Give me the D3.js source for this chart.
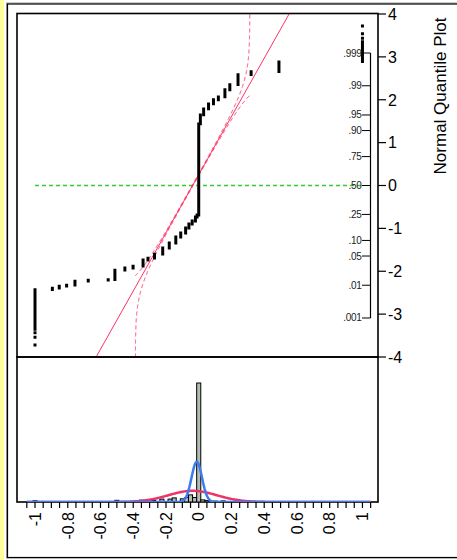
<!DOCTYPE html>
<html><head><meta charset="utf-8">
<script src="https://cdn.jsdelivr.net/npm/d3@7"></script>
<style>body{margin:0;background:#fff}svg{display:block}text{font-family:Arial,"Liberation Sans",sans-serif}</style>
</head><body><svg id="c" width="457" height="560"></svg>
<script>
// ---- data (distinct values and their counts) ----
const dataValues = [-1.0,-0.894,-0.852,-0.807,-0.756,-0.675,-0.553,-0.512,-0.451,-0.401,-0.34,-0.31,-0.27,-0.22,-0.18,-0.14,-0.11,-0.08,-0.06,-0.04,-0.02,-0.01,0,0.01,0.03,0.06,0.09,0.12,0.16,0.19,0.24,0.32,0.49,1.0];
const dataCounts = [75,8,11,6,28,8,4,102,28,30,109,42,96,174,175,248,192,268,238,193,274,144,6794,256,128,85,56,35,66,34,45,9,20,19];
const xTickValues = [-1,-0.8,-0.6,-0.4,-0.2,0,0.2,0.4,0.6,0.8,1];
const xTickLabels = ["-1","-0.8","-0.6","-0.4","-0.2","0","0.2","0.4","0.6","0.8","1"];
const zTickValues = [4,3,2,1,0,-1,-2,-3,-4];
const zTickLabels = ["4","3","2","1","0","-1","-2","-3","-4"];
const probTickValues = [0.001,0.01,0.05,0.10,0.25,0.50,0.75,0.90,0.95,0.99,0.999];
const probTickLabels = [".001",".01",".05",".10",".25",".50",".75",".90",".95",".99",".999"];
const xDomain = [-1.11, 1.095];
const zDomain = [-4, 4];
const histBinWidth = 0.025;
// second (narrow) fitted curve: location, scale, weight
const blueLocation = -0.012, blueScale = 0.032, blueWeight = 0.78;
const titleText = "Normal Quantile Plot";

// ---- helpers ----
function invNorm(p){
  const a=[-3.969683028665376e+01,2.209460984245205e+02,-2.759285104469687e+02,1.383577518672690e+02,-3.066479806614716e+01,2.506628277459239e+00];
  const b=[-5.447609879822406e+01,1.615858368580409e+02,-1.556989798598866e+02,6.680131188771972e+01,-1.328068155288572e+01];
  const c=[-7.784894002430293e-03,-3.223964580411365e-01,-2.400758277161838e+00,-2.549732539343734e+00,4.374664141464968e+00,2.938163982698783e+00];
  const d=[7.784695709041462e-03,3.224671290700398e-01,2.445134137142996e+00,3.754408661907416e+00];
  const pl=0.02425, ph=1-pl; let q,r;
  if(p<pl){q=Math.sqrt(-2*Math.log(p));return (((((c[0]*q+c[1])*q+c[2])*q+c[3])*q+c[4])*q+c[5])/((((d[0]*q+d[1])*q+d[2])*q+d[3])*q+1);}
  if(p<=ph){q=p-0.5;r=q*q;return (((((a[0]*r+a[1])*r+a[2])*r+a[3])*r+a[4])*r+a[5])*q/(((((b[0]*r+b[1])*r+b[2])*r+b[3])*r+b[4])*r+1);}
  q=Math.sqrt(-2*Math.log(1-p));return -(((((c[0]*q+c[1])*q+c[2])*q+c[3])*q+c[4])*q+c[5])/((((d[0]*q+d[1])*q+d[2])*q+d[3])*q+1);
}
function erf(x){const s=Math.sign(x);x=Math.abs(x);const t=1/(1+0.3275911*x);
  const y=1-(((((1.061405429*t-1.453152027)*t)+1.421413741)*t-0.284496736)*t+0.254829592)*t*Math.exp(-x*x);return s*y;}
const normCdf = z => 0.5*(1+erf(z/Math.SQRT2));
const normPdf = (v,m,s) => Math.exp(-0.5*((v-m)/s)**2)/(s*Math.sqrt(2*Math.PI));

// expand observations
const obs = [];
dataValues.forEach((v,i)=>{for(let k=0;k<dataCounts[i];k++) obs.push(v);});
const N = obs.length;
const mean = d3.mean(obs), sd = d3.deviation(obs);
const lillD = 0.886/Math.sqrt(N);

// ---- layout ----
const L=17, R=378, T=13.5, MID=357, B=502;
const svg = d3.select("#c");
const x = d3.scaleLinear().domain(xDomain).range([L,R]);
const y = d3.scaleLinear().domain(zDomain).range([MID,T+0.5]);

// left yellow strip and outer frame
svg.append("rect").attr("x",0).attr("y",0).attr("width",4).attr("height",560).attr("fill","#ffff99");
svg.append("rect").attr("x",6.5).attr("y",3).attr("width",470).attr("height",555).attr("fill","none").attr("stroke","#999").attr("stroke-width",1);
svg.append("rect").attr("x",7.5).attr("y",4).attr("width",470).attr("height",553.5).attr("fill","none").attr("stroke","#000").attr("stroke-width",1.2);

const defs = svg.append("defs");
defs.append("clipPath").attr("id","topclip").append("rect").attr("x",L).attr("y",T).attr("width",R-L).attr("height",MID-T);
defs.append("clipPath").attr("id","botclip").append("rect").attr("x",L).attr("y",MID).attr("width",R-L).attr("height",B-MID);

const gTop = svg.append("g").attr("clip-path","url(#topclip)");

// green median line
gTop.append("line").attr("x1",x(d3.min(obs))).attr("x2",x(d3.max(obs))).attr("y1",y(0)).attr("y2",y(0))
  .attr("stroke","#33cc33").attr("stroke-width",1.5).attr("stroke-dasharray","4,3");

// fitted normal line
gTop.append("line").attr("x1",x(mean+sd*zDomain[0])).attr("y1",y(zDomain[0])).attr("x2",x(mean+sd*zDomain[1])).attr("y2",y(zDomain[1]))
  .attr("stroke","#ff3366").attr("stroke-width",1);

// Lilliefors confidence bands (limited to the range between the band asymptotes)
const bandLo = mean+sd*invNorm(lillD), bandHi = mean+sd*invNorm(1-lillD);
const zs = d3.range(zDomain[0]-0.5, zDomain[1]+0.5, 0.004);
[-1,1].forEach(sg=>{
  const pts = zs.map(z=>{const p=normCdf(z)+sg*lillD; if(!(p>0&&p<1)) return [NaN,NaN];
    const v=mean+sd*invNorm(p); return (v>=bandLo-0.002&&v<=bandHi+0.002)?[x(v),y(z)]:[NaN,NaN];});
  gTop.append("path").attr("d", d3.line().defined(d=>!isNaN(d[0]))(pts))
    .attr("fill","none").attr("stroke","#ff3366").attr("stroke-width",1).attr("stroke-dasharray","4,3");
});

// points
let pd="";
obs.forEach((v,i)=>{const px=x(v), py=y(invNorm((i+1)/(N+1))); pd+=`M${(px-1.5).toFixed(2)},${(py-1.5).toFixed(2)}h3v3h-3z`;});
gTop.append("path").attr("d",pd).attr("fill","#000");

// inner probability axis
const px0 = 370.5;
svg.append("line").attr("x1",px0).attr("x2",px0).attr("y1",y(invNorm(0.999))).attr("y2",y(invNorm(0.001))).attr("stroke","#000").attr("stroke-width",1.2);
probTickValues.forEach((p,i)=>{
  const yy=y(invNorm(p));
  svg.append("line").attr("x1",362).attr("x2",px0).attr("y1",yy).attr("y2",yy).attr("stroke","#000").attr("stroke-width",1);
  svg.append("text").attr("x",361.5).attr("y",yy).attr("dy","0.35em").attr("text-anchor","end").attr("font-size",10).attr("fill","#222").attr("letter-spacing","-0.3").text(probTickLabels[i]);
});

// frames
svg.append("rect").attr("x",L).attr("y",T).attr("width",R-L).attr("height",MID-T).attr("fill","none").attr("stroke","#000").attr("stroke-width",1.6);
svg.append("rect").attr("x",L).attr("y",MID).attr("width",R-L).attr("height",B-MID).attr("fill","none").attr("stroke","#000").attr("stroke-width",1.6);

// right z axis
zTickValues.forEach((z,i)=>{
  svg.append("line").attr("x1",R).attr("x2",R+8).attr("y1",y(z)).attr("y2",y(z)).attr("stroke","#000").attr("stroke-width",1.2);
  svg.append("text").attr("x",R+10).attr("y",y(z)).attr("dy","0.36em").attr("font-size",16).attr("fill","#000").text(zTickLabels[i]);
});
svg.append("text").attr("transform",`translate(446,${96}) rotate(-90)`).attr("text-anchor","middle").attr("font-size",17).attr("fill","#000").text(titleText);

// ---- histogram ----
const thresholds = d3.range(-1.1 - histBinWidth/2, 1.1, histBinWidth);
const bins = d3.bin().domain([thresholds[0], thresholds[thresholds.length-1]+histBinWidth]).thresholds(thresholds)(obs);
const maxBin = d3.max(bins, b=>b.length);
const yh = d3.scaleLinear().domain([0, maxBin*(B-MID)/119]).range([B, MID]);
const bot = svg.append("g").attr("clip-path","url(#botclip)");
bot.selectAll("rect.bar").data(bins.filter(b=>b.length>0)).join("rect").attr("class","bar")
  .attr("x",b=>x(b.x0)).attr("width",b=>x(b.x1)-x(b.x0)).attr("y",b=>yh(b.length)).attr("height",b=>B-yh(b.length))
  .attr("fill","#b4bcb4").attr("stroke","#000").attr("stroke-width",1);
const vs = d3.range(-1.05, 1.0501, 0.005);
bot.append("path").attr("d", d3.line()(vs.map(v=>[x(v), yh(N*histBinWidth*normPdf(v,mean,sd))])))
  .attr("fill","none").attr("stroke","#ee3366").attr("stroke-width",2.5);
bot.append("path").attr("d", d3.line()(vs.map(v=>[x(v), yh(blueWeight*N*histBinWidth*normPdf(v,blueLocation,blueScale))])))
  .attr("fill","none").attr("stroke","#3b7cf0").attr("stroke-width",2.5);

// bottom x axis
const minorTicks = d3.range(-1.05, 1.0501, 0.05);
minorTicks.forEach(v=>{
  svg.append("line").attr("x1",x(v)).attr("x2",x(v)).attr("y1",B).attr("y2",B+6).attr("stroke","#000").attr("stroke-width",1.2);
});
xTickValues.forEach((v,i)=>{
  svg.append("text").attr("transform",`translate(${x(v)},${B+10}) rotate(-90)`).attr("dy","0.36em").attr("text-anchor","end").attr("font-size",16).attr("fill","#000").text(xTickLabels[i]);
});
</script></body></html>
